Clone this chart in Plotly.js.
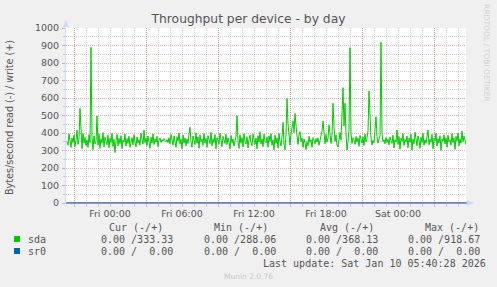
<!DOCTYPE html>
<html>
<head>
<meta charset="utf-8">
<script src="https://cdn.plot.ly/plotly-3.0.1.min.js"></script>
<style>
  html, body { margin: 0; padding: 0; background: #f0f0f0; }
  #chart { width: 497px; height: 287px; }
</style>
</head>
<body>
<div id="chart"></div>
<script>
// ---- data (5-minute samples, Thu 20:25 .. Sat 05:40) ----
const seriesStart = '2026-01-08T20:25:00Z';
const stepMinutes = 5;

// sda write throughput (Bytes/second, +)
const sdaWrite = [
  352, 330, 395, 340, 318, 372, 345, 388, 322, 360, 417, 335, 366, 541, 380, 310, 398, 342, 375, 328,
  362, 318, 390, 345, 890, 372, 305, 384, 338, 352, 497, 330, 395, 312, 368, 341, 402, 320, 376, 350,
  333, 388, 316, 371, 345, 398, 322, 364, 288.06, 356, 392, 327, 370, 339, 385, 311, 360, 347, 394, 325,
  368, 340, 382, 318, 355, 374, 332, 390, 349, 321, 377, 343, 362, 330, 398, 352, 336, 417, 345, 372,
  328, 384, 350, 312, 376, 342, 395, 334, 365, 348, 381, 322, 359, 371, 346, 362, 354, 368, 358, 350,
  362, 345, 373, 338, 392, 356, 330, 384, 347, 318, 379, 352, 401, 336, 365, 310, 388, 343, 372, 327,
  366, 340, 395, 432, 348, 318, 383, 356, 334, 401, 342, 377, 312, 390, 351, 365, 329, 397, 344, 370,
  318, 385, 352, 339, 404, 326, 368, 345, 391, 310, 374, 357, 336, 398, 348, 322, 381, 362, 340, 393,
  333, 372, 351, 308, 386, 344, 366, 325, 358, 382, 499, 349, 312, 390, 341, 374, 320, 396, 352, 337,
  379, 315, 362, 389, 343, 327, 395, 356, 334, 371, 310, 385, 348, 408, 337, 366, 322, 393, 351, 345,
  376, 318, 384, 352, 396, 330, 361, 304, 388, 342, 372, 315, 398, 349, 326, 380, 461, 337, 305, 392,
  598, 452, 380, 331, 395, 428, 470, 402, 512, 440, 372, 335, 388, 408, 351, 372, 318, 366, 342, 305,
  352, 327, 381, 346, 362, 318, 374, 355, 339, 368, 349, 372, 330, 358, 386, 412, 469, 376, 338, 392,
  348, 372, 446, 398, 340, 385, 570, 436, 352, 389, 331, 320, 365, 402, 358, 481, 659, 440, 570, 396,
  303, 352, 418, 888, 396, 340, 374, 362, 335, 380, 348, 371, 324, 386, 356, 342, 377, 329, 395, 350,
  368, 412, 640, 452, 372, 331, 358, 344, 402, 493, 380, 342, 365, 385, 918.67, 398, 350, 362, 338, 374,
  346, 365, 332, 378, 356, 341, 388, 315, 362, 347, 417, 335, 380, 308, 371, 352, 396, 328, 363, 349,
  382, 316, 371, 347, 394, 302, 366, 338, 405, 351, 327, 384, 359, 312, 376, 345, 398, 330, 362, 341,
  378, 417, 332, 364, 346, 392, 310, 371, 354, 399, 326, 368, 343, 384, 301, 366, 352, 390, 337, 373,
  318, 387, 349, 362, 330, 396, 345, 372, 306, 381, 354, 399, 327, 368, 341, 411, 350, 382, 359, 333.33
];

// sr0 is constant zero over the whole window (first and last sample)
const sr0Times = ['2026-01-08 20:25:00', '2026-01-10 05:40:00'];
const sr0Values = [0, 0];

// axis labels
const xLabelTimes = ['2026-01-09 00:00', '2026-01-09 06:00', '2026-01-09 12:00', '2026-01-09 18:00', '2026-01-10 00:00'];
const xLabelText = ['Fri 00:00', 'Fri 06:00', 'Fri 12:00', 'Fri 18:00', 'Sat 00:00'];
const xMajorGridTimes = ['2026-01-08 21:00', '2026-01-09 03:00', '2026-01-09 09:00', '2026-01-09 15:00', '2026-01-09 21:00', '2026-01-10 03:00'];
const xRange = ['2026-01-08 20:20', '2026-01-10 05:40'];

// legend texts
const legendHeaders = ['Cur (-/+)', 'Min (-/+)', 'Avg (-/+)', 'Max (-/+)'];
const seriesNames = ['sda', 'sr0'];
const seriesColors = ['#00cc00', '#0066b3'];
const sdaStats = ['0.00 /333.33', '0.00 /288.06', '0.00 /368.13', '0.00 /918.67'];
const sr0Stats = ['0.00 /  0.00', '0.00 /  0.00', '0.00 /  0.00', '0.00 /  0.00'];
const lastUpdate = 'Last update: Sat Jan 10 05:40:28 2026';
const footer = 'Munin 2.0.76';
const titleText = 'Throughput per device - by day';
const yTitle = 'Bytes/second read (-) / write (+)';
const sideText = 'RRDTOOL / TOBI OETIKER';

// ---- build ----
const t0 = Date.parse(seriesStart);
const sdaTimes = sdaWrite.map((_, i) => {
  const d = new Date(t0 + i * stepMinutes * 60000);
  return d.toISOString().replace('T', ' ').slice(0, 19);
});

// plot box in pixels
const L = 66, R = 31, T = 28, B = 84, W = 497, H = 287;
const pw = W - L - R, ph = H - T - B;
const px = x => (x - L) / pw;
const py = y => (H - B - y) / ph;
const nb = s => s.replace(/ /g, '\u00a0');

const FONT = 'DejaVu Sans, sans-serif';
const MONO = 'DejaVu Sans Mono, monospace';
const TXT = '#555555';
const MGRID = 'rgba(222,48,48,0.38)';
const GRID = 'rgba(143,143,143,0.40)';
const AXIS = '#cfd6f8';

const traces = [
  { x: sr0Times, y: sr0Values, type: 'scatter', mode: 'lines', xaxis: 'x', yaxis: 'y',
    line: { color: seriesColors[1], width: 1 }, hoverinfo: 'skip', cliponaxis: false },
  { x: sdaTimes, y: sdaWrite, type: 'scatter', mode: 'lines', xaxis: 'x', yaxis: 'y',
    line: { color: seriesColors[0], width: 1 }, hoverinfo: 'skip' },
  { x: xRange, y: [null, null], type: 'scatter', mode: 'lines', xaxis: 'x2', yaxis: 'y', hoverinfo: 'skip' }
];

const annotations = [];
const colHeaderX = [107.3, 212.3, 317.7, 422.7];
const colValueX = [99.3, 201.7, 303.7, 406];
legendHeaders.forEach((h, i) => annotations.push({
  xref: 'paper', yref: 'paper', x: px(colHeaderX[i]), y: py(227.5), xanchor: 'left', yanchor: 'middle',
  text: nb(h), showarrow: false, font: { family: MONO, size: 10, color: TXT }
}));
[sdaStats, sr0Stats].forEach((stats, r) => {
  const yy = 239.5 + r * 12;
  annotations.push({
    xref: 'paper', yref: 'paper', x: px(26), y: py(yy), xanchor: 'left', yanchor: 'middle',
    text: seriesNames[r], showarrow: false, font: { family: MONO, size: 10, color: TXT }
  });
  stats.forEach((s, i) => annotations.push({
    xref: 'paper', yref: 'paper', x: px(colValueX[i]), y: py(yy), xanchor: 'left', yanchor: 'middle',
    text: nb(s), showarrow: false, font: { family: MONO, size: 10, color: TXT }
  }));
});
annotations.push({
  xref: 'paper', yref: 'paper', x: px(261), y: py(263.5), xanchor: 'left', yanchor: 'middle',
  text: nb(lastUpdate), showarrow: false, font: { family: MONO, size: 10, color: TXT }
});
annotations.push({
  xref: 'paper', yref: 'paper', x: px(248.5), y: py(276.5), xanchor: 'center', yanchor: 'middle',
  text: footer, showarrow: false, font: { family: FONT, size: 7.5, color: '#c8c8c8' }
});
annotations.push({
  xref: 'paper', yref: 'paper', x: px(10), y: py(118), xanchor: 'center', yanchor: 'middle',
  text: yTitle, textangle: -90, showarrow: false, font: { family: FONT, size: 9.6, color: TXT }
});
annotations.push({
  xref: 'paper', yref: 'paper', x: px(487), y: py(53), xanchor: 'center', yanchor: 'middle',
  text: sideText, textangle: 90, showarrow: false, font: { family: FONT, size: 7.6, color: '#d0d0d0' }
});

const shapes = [
  // legend colour boxes
  { type: 'rect', xref: 'paper', yref: 'paper', x0: px(14), x1: px(20), y0: py(242), y1: py(236),
    fillcolor: seriesColors[0], line: { width: 0 } },
  { type: 'rect', xref: 'paper', yref: 'paper', x0: px(14), x1: px(20), y0: py(254), y1: py(248),
    fillcolor: seriesColors[1], line: { width: 0 } },
  // axis arrows
  { type: 'path', xref: 'paper', yref: 'paper',
    path: `M ${px(63)} ${py(27)} L ${px(69)} ${py(27)} L ${px(66)} ${py(20)} Z`,
    fillcolor: AXIS, line: { width: 0 } },
  { type: 'path', xref: 'paper', yref: 'paper',
    path: `M ${px(467)} ${py(200)} L ${px(467)} ${py(206)} L ${px(474)} ${py(203)} Z`,
    fillcolor: AXIS, line: { width: 0 } },
  { type: 'line', xref: 'paper', yref: 'paper', x0: px(66), x1: px(467), y0: 0, y1: 0,
    line: { color: '#4f5b9a', width: 1 } }
];

const layout = {
  width: W, height: H,
  margin: { l: L, r: R, t: T, b: B, pad: 0 },
  paper_bgcolor: '#f0f0f0',
  plot_bgcolor: '#ffffff',
  showlegend: false,
  title: {
    text: titleText, xref: 'container', yref: 'container', x: 0.5, y: 1 - 19 / H,
    xanchor: 'center', yanchor: 'middle', font: { family: FONT, size: 12.3, color: TXT }
  },
  xaxis: {
    type: 'date', range: xRange, tickmode: 'array', tickvals: xMajorGridTimes,
    ticktext: xMajorGridTimes.map(() => ''), showticklabels: false,
    showgrid: true, gridcolor: MGRID, griddash: '1px,1px', gridwidth: 1,
    ticks: 'outside', ticklen: 3, tickcolor: MGRID,
    minor: { dtick: 3600000, tick0: '2026-01-09 00:00', showgrid: true, gridcolor: GRID,
             griddash: '1px,1px', ticks: 'outside', ticklen: 3, tickcolor: GRID },
    showline: true, linecolor: AXIS, zeroline: false, fixedrange: true
  },
  xaxis2: {
    type: 'date', range: xRange, overlaying: 'x', anchor: 'y', side: 'bottom',
    tickmode: 'array', tickvals: xLabelTimes, ticktext: xLabelText,
    showgrid: false, ticks: '', showline: false, zeroline: false,
    ticklabelstandoff: 3,
    tickfont: { family: FONT, size: 9.5, color: TXT }
  },
  yaxis: {
    range: [0, 1000], tickmode: 'linear', tick0: 0, dtick: 100,
    showgrid: true, gridcolor: MGRID, griddash: '1px,1px', gridwidth: 1,
    ticks: 'outside', ticklen: 3, tickcolor: MGRID,
    minor: { dtick: 50, tick0: 0, showgrid: true, gridcolor: GRID, griddash: '1px,1px',
             ticks: 'outside', ticklen: 2, tickcolor: GRID },
    showline: true, linecolor: AXIS, zeroline: false,
    tickfont: { family: FONT, size: 9.5, color: TXT }, ticklabelstandoff: 1
  },
  annotations: annotations,
  shapes: shapes
};

Plotly.newPlot('chart', traces, layout, { staticPlot: true, displayModeBar: false });
</script>
</body>
</html>
